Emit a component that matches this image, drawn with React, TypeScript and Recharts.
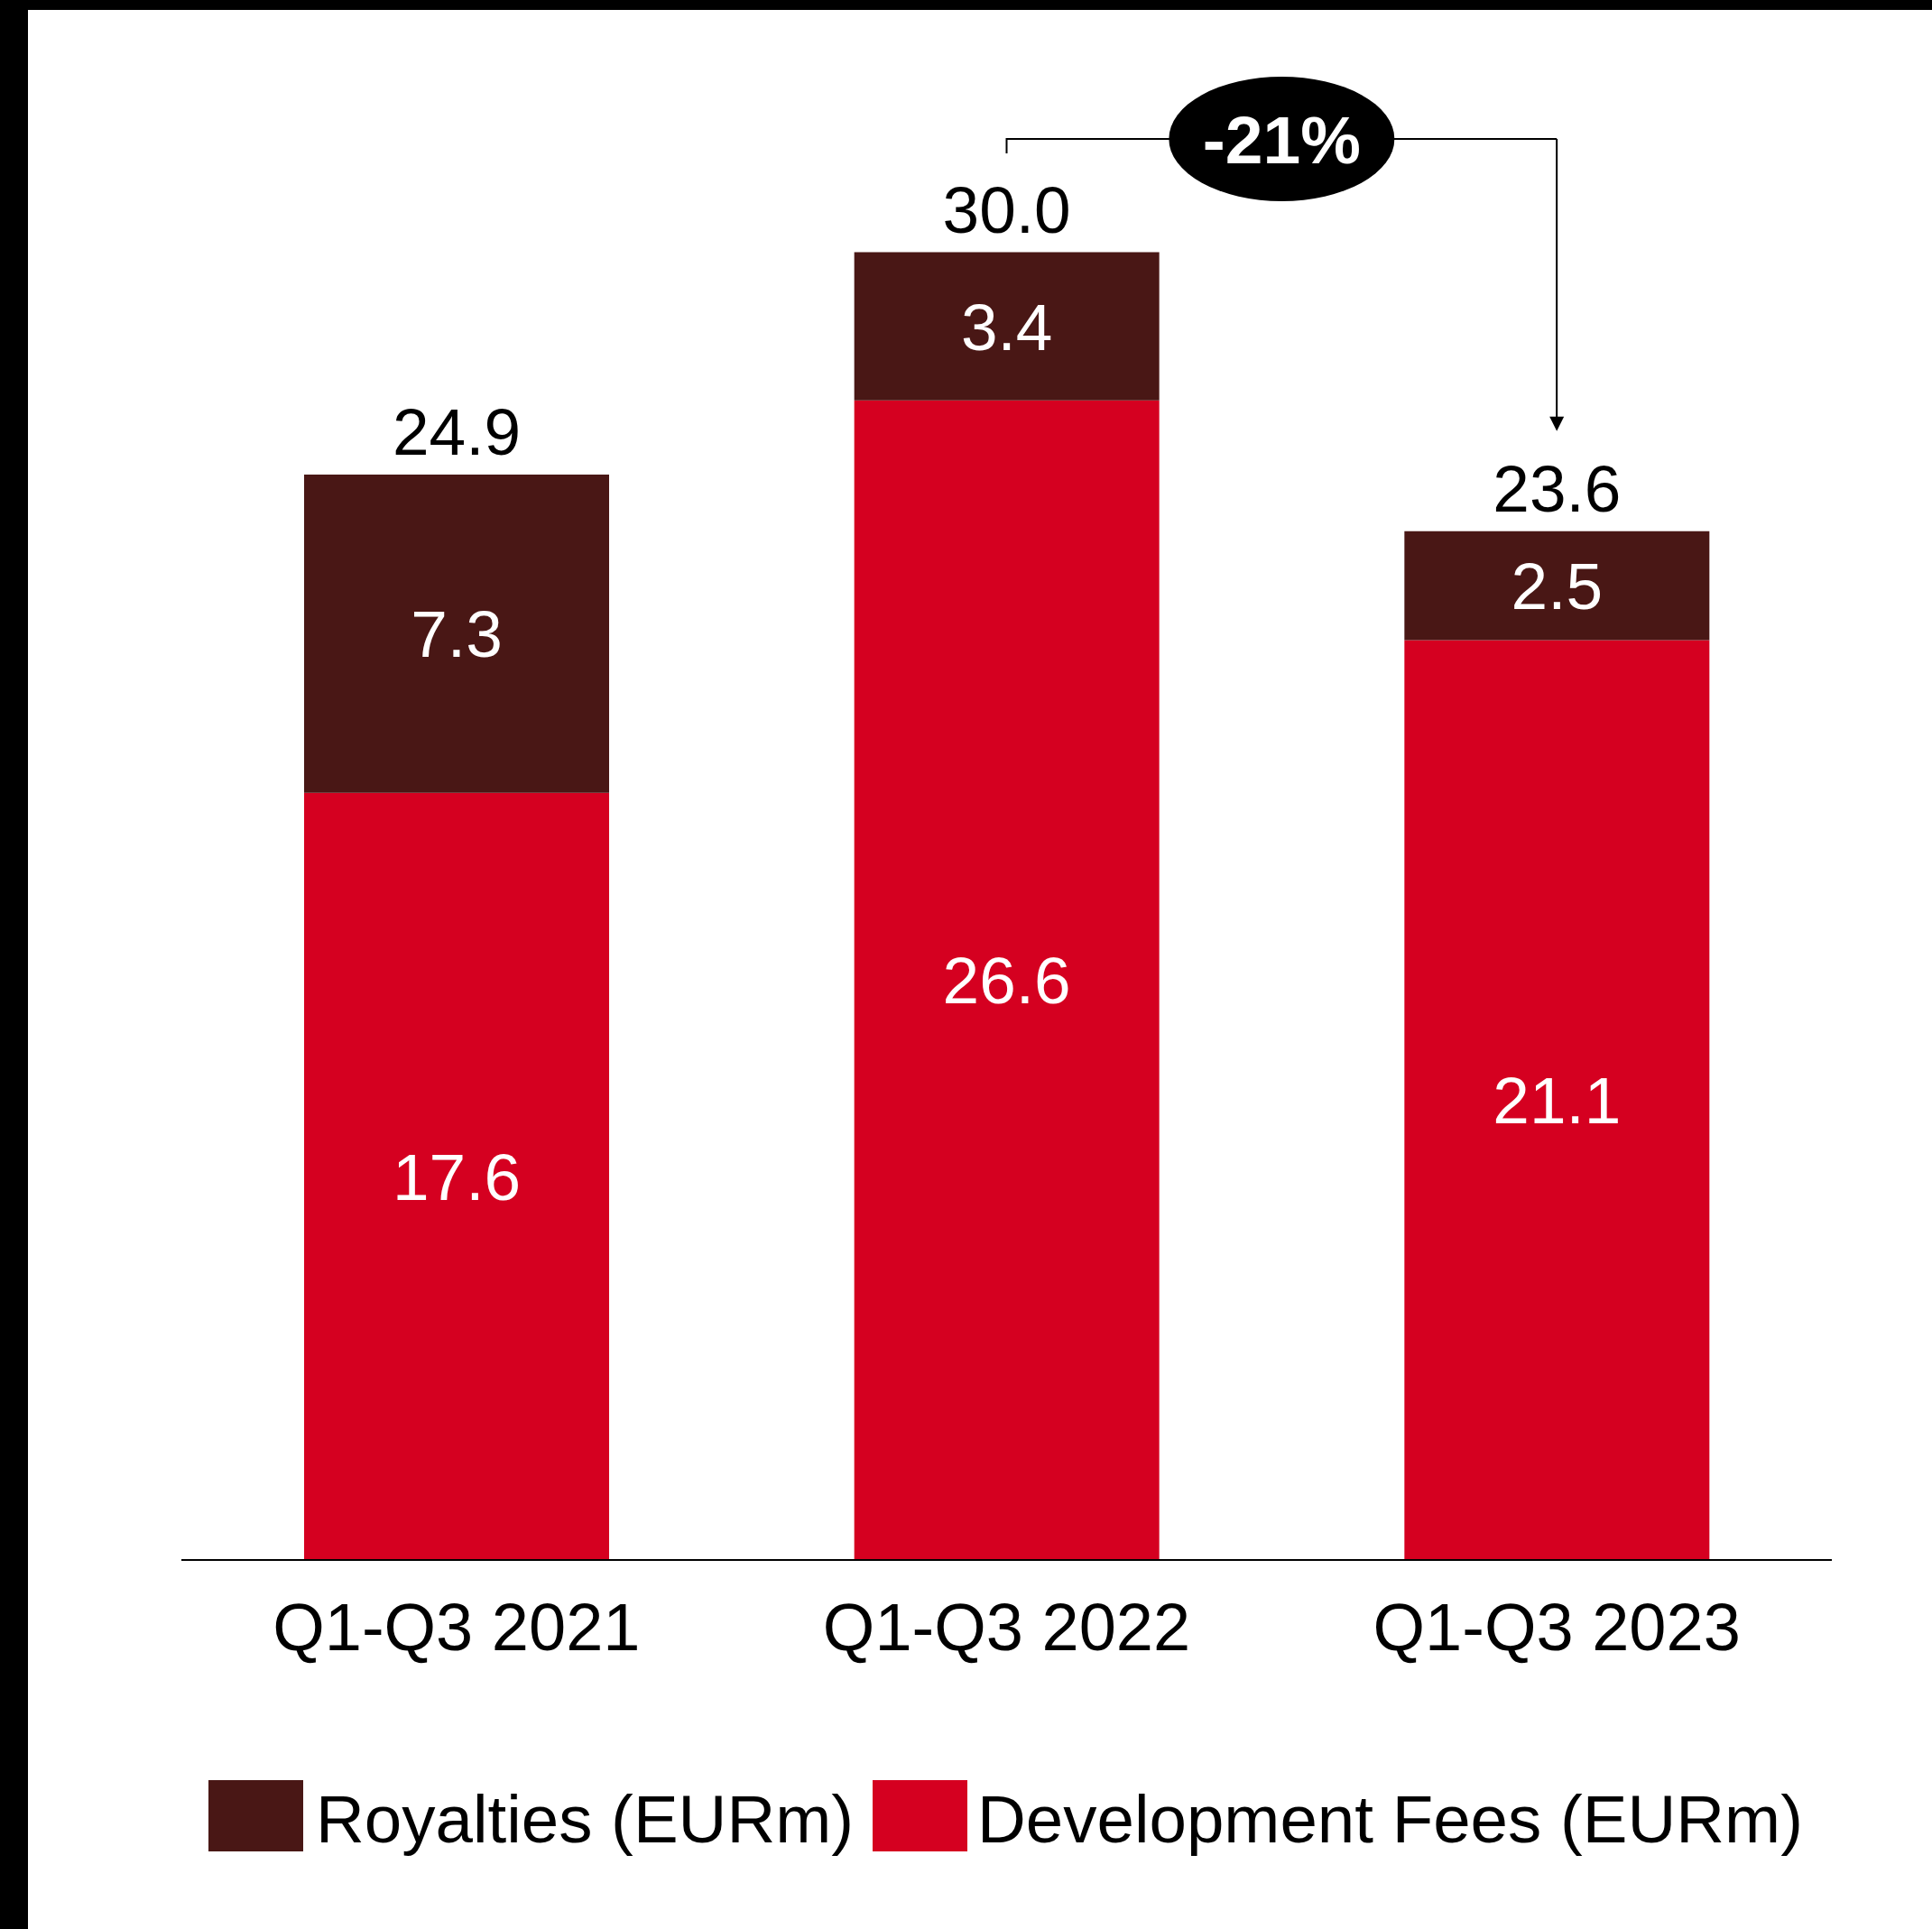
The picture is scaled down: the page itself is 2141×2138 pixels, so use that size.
import React from 'react'
import { BarChart, Bar, XAxis, YAxis, LabelList, Legend, ReferenceLine } from 'recharts'

const categories = ['Q1-Q3 2021', 'Q1-Q3 2022', 'Q1-Q3 2023']
const royalties = [7.3, 3.4, 2.5]
const developmentFees = [17.6, 26.6, 21.1]
const totals = [24.9, 30.0, 23.6]

// change annotation between 2022 and 2023
const changeLabel = '-21%'
const bracketLevel = 32.6
const arrowEnd = 25.9

const seriesNames = {
  royalties: 'Royalties (EURm)',
  developmentFees: 'Development Fees (EURm)',
}
const colors = {
  royalties: '#491715',
  developmentFees: '#D50020',
}

const FONT = '"Liberation Sans", Arial, sans-serif'
const W = 2141
const H = 2138

const data = categories.map((name, i) => ({
  name,
  royalties: royalties[i],
  developmentFees: developmentFees[i],
  total: totals[i],
}))

const fmt = (v: any) => Number(v).toFixed(1)

function ChangeBracket(props: any) {
  const { x1, y1, x2 } = props
  const cx = (x1 + x2) / 2
  return (
    <g>
      <path d={`M${x1},${y1 + 16}V${y1}H${x2}`} fill="none" stroke="#000" strokeWidth={2} />
      <ellipse cx={cx} cy={y1} rx={125} ry={69} fill="#000" />
      <text
        x={cx}
        y={y1 + 27}
        textAnchor="middle"
        fill="#fff"
        fontSize={75}
        fontWeight="bold"
        fontFamily={FONT}
      >
        {changeLabel}
      </text>
    </g>
  )
}

function DownArrow(props: any) {
  const { x1, y1, y2 } = props
  const top = Math.min(y1, y2)
  const tip = Math.max(y1, y2)
  return (
    <g>
      <line x1={x1} y1={top} x2={x1} y2={tip - 12} stroke="#000" strokeWidth={2} />
      <path d={`M${x1 - 8},${tip - 16}L${x1 + 8},${tip - 16}L${x1},${tip}Z`} fill="#000" />
    </g>
  )
}

function LegendContent() {
  const items = [
    { key: 'royalties', swatchLeft: 231, textLeft: 350 },
    { key: 'developmentFees', swatchLeft: 967, textLeft: 1083 },
  ] as const
  return (
    <div style={{ position: 'relative', width: W, height: 100, fontFamily: FONT, fontSize: 74.5, lineHeight: '74px', color: '#000' }}>
      {items.map((it) => (
        <React.Fragment key={it.key}>
          <div style={{ position: 'absolute', left: it.swatchLeft, top: 13, width: 105, height: 79, background: colors[it.key] }} />
          <span style={{ position: 'absolute', left: it.textLeft, top: 20, whiteSpace: 'nowrap' }}>
            {seriesNames[it.key]}
          </span>
        </React.Fragment>
      ))}
    </div>
  )
}

export default function App() {
  return (
    <div style={{ position: 'absolute', left: 0, top: 0, width: W, height: H, background: '#fff', overflow: 'hidden', fontFamily: FONT }}>
      <BarChart
        width={W}
        height={H}
        data={data}
        margin={{ top: 38, right: 111, bottom: 289, left: 201 }}
        barSize={338}
      >
        <XAxis
          dataKey="name"
          tickLine={false}
          tickSize={0}
          tickMargin={47}
          axisLine={{ stroke: '#000', strokeWidth: 2 }}
          height={120}
          tick={{ fontSize: 74, fill: '#000', fontFamily: FONT }}
        />
        <YAxis hide domain={[0, 35]} />
        <Bar dataKey="developmentFees" name={seriesNames.developmentFees} stackId="a" fill={colors.developmentFees} isAnimationActive={false}>
          <LabelList dataKey="developmentFees" position="center" fill="#fff" fontSize={73} fontFamily={FONT} formatter={fmt} />
        </Bar>
        <Bar dataKey="royalties" name={seriesNames.royalties} stackId="a" fill={colors.royalties} isAnimationActive={false}>
          <LabelList dataKey="royalties" position="center" fill="#fff" fontSize={73} fontFamily={FONT} formatter={fmt} />
          <LabelList dataKey="total" position="top" offset={22} fill="#000" fontSize={73} fontFamily={FONT} formatter={fmt} />
        </Bar>
        <ReferenceLine
          segment={[{ x: categories[1], y: bracketLevel }, { x: categories[2], y: bracketLevel }]}
          shape={(p: any) => <ChangeBracket {...p} />}
        />
        <ReferenceLine
          segment={[{ x: categories[2], y: bracketLevel }, { x: categories[2], y: arrowEnd }]}
          shape={(p: any) => <DownArrow {...p} />}
        />
        <Legend
          layout="vertical"
          align="center"
          verticalAlign="middle"
          content={<LegendContent />}
          wrapperStyle={{ left: 0, top: 1960, width: W, height: 100 }}
        />
      </BarChart>
      <div style={{ position: 'absolute', left: 0, top: 0, width: W, height: 11, background: '#000' }} />
      <div style={{ position: 'absolute', left: 0, top: 0, width: 31, height: H, background: '#000' }} />
    </div>
  )
}
